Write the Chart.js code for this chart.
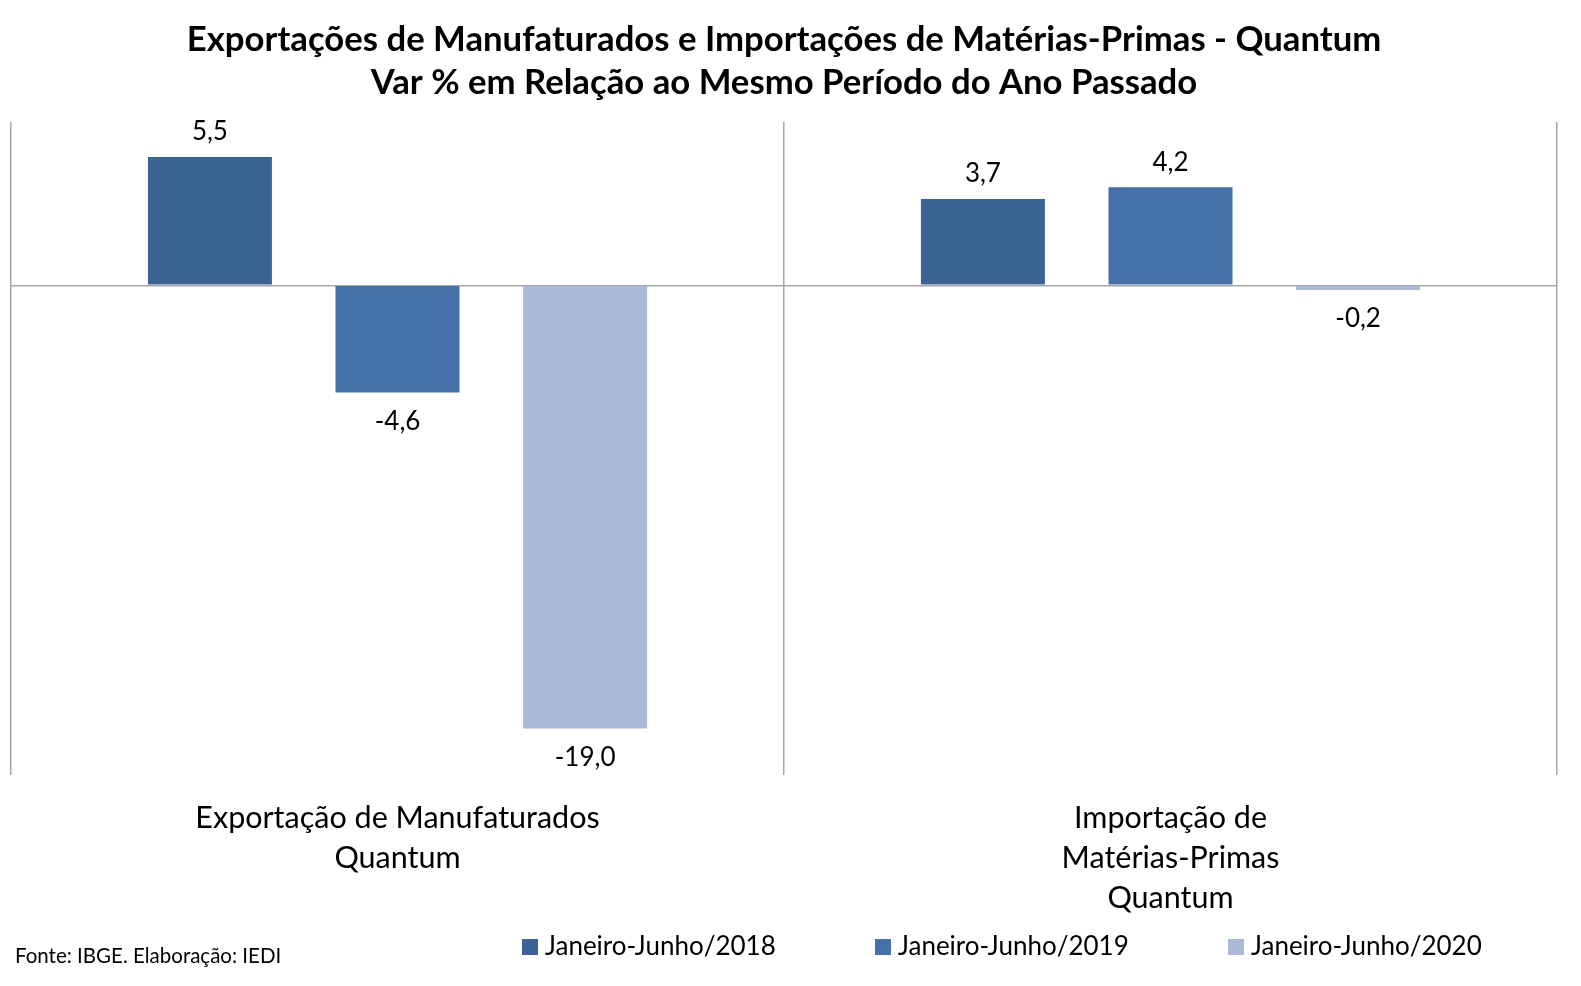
<!DOCTYPE html>
<html>
<head>
<meta charset="utf-8">
<script src="https://cdn.jsdelivr.net/npm/chart.js@4"></script>
<style>
  html, body { margin: 0; padding: 0; background: #fff; }
  #wrap { width: 1581px; height: 986px; }
</style>
</head>
<body>
<div id="wrap"><canvas id="chart" width="1581" height="986"></canvas></div>
<script>
// data
const categories = [
    ['Exportação de Manufaturados', 'Quantum'],
    ['Importação de', 'Matérias-Primas', 'Quantum']
];
const seriesNames = ['Janeiro-Junho/2018', 'Janeiro-Junho/2019', 'Janeiro-Junho/2020'];
const values2018 = [5.5, 3.7];
const values2019 = [-4.6, 4.2];
const values2020 = [-19.0, -0.2];
const seriesColors = ['#3B6495', '#4472A8', '#AABAD7'];

const FONT = 'Lato, "Open Sans", sans-serif';
const fmt = v => v.toFixed(1).replace('.', ',');

// value labels above / below each bar
const valueLabels = {
    id: 'valueLabels',
    afterDatasetsDraw(chart) {
        const ctx = chart.ctx;
        ctx.save();
        ctx.font = '26px ' + FONT;
        ctx.fillStyle = '#000';
        ctx.textAlign = 'center';
        ctx.textBaseline = 'middle';
        chart.data.datasets.forEach((ds, i) => {
            chart.getDatasetMeta(i).data.forEach((bar, j) => {
                const v = ds.data[j];
                const y = v >= 0 ? bar.y - 25 : bar.y + 29;
                ctx.fillText(fmt(v), bar.x, y);
            });
        });
        ctx.restore();
    }
};

// bottom legend and source note
const footer = {
    id: 'footer',
    afterDraw(chart) {
        const ctx = chart.ctx;
        ctx.save();
        ctx.textBaseline = 'middle';
        ctx.font = '26px ' + FONT;
        chart.data.datasets.forEach((ds, i) => {
            const x = 522 + i * 353;
            ctx.fillStyle = ds.backgroundColor;
            ctx.fillRect(x, 939, 16, 16);
            ctx.fillStyle = '#000';
            ctx.fillText(ds.label, x + 23, 947);
        });
        ctx.font = '20.5px ' + FONT;
        ctx.fillText('Fonte: IBGE. Elaboração: IEDI', 15, 956);
        ctx.restore();
    }
};

const datasets = [values2018, values2019, values2020].map((vals, i) => ({
    label: seriesNames[i],
    data: vals,
    backgroundColor: seriesColors[i],
    categoryPercentage: 0.728,
    barPercentage: 0.661
}));

new Chart(document.getElementById('chart'), {
    type: 'bar',
    data: { labels: categories, datasets: datasets },
    options: {
        responsive: false,
        animation: false,
        layout: { padding: { left: 11, right: 24, top: 8, bottom: 45 } },
        plugins: {
            legend: { display: false },
            tooltip: { enabled: false },
            title: {
                display: true,
                text: ['Exportações de Manufaturados e Importações de Matérias-Primas - Quantum',
                       'Var % em Relação ao Mesmo Período do Ano Passado'],
                color: '#000',
                font: { family: FONT, size: 34.7, weight: 'bold', lineHeight: 1.24 },
                padding: { top: 10, bottom: 18 }
            }
        },
        scales: {
            x: {
                grid: { offset: true, color: '#A6A6A6', lineWidth: 1.5, drawTicks: false },
                border: { display: false },
                ticks: {
                    color: '#000',
                    padding: 23,
                    maxRotation: 0,
                    autoSkip: false,
                    font: { family: FONT, size: 30.5, lineHeight: 1.31 }
                }
            },
            y: {
                min: -21,
                max: 7,
                ticks: { display: false, stepSize: 7 },
                border: { display: false },
                grid: {
                    drawTicks: false,
                    lineWidth: 1.5,
                    color: c => c.tick && c.tick.value === 0 ? '#A6A6A6' : 'rgba(0,0,0,0)'
                }
            }
        }
    },
    plugins: [valueLabels, footer]
});
</script>
</body>
</html>
